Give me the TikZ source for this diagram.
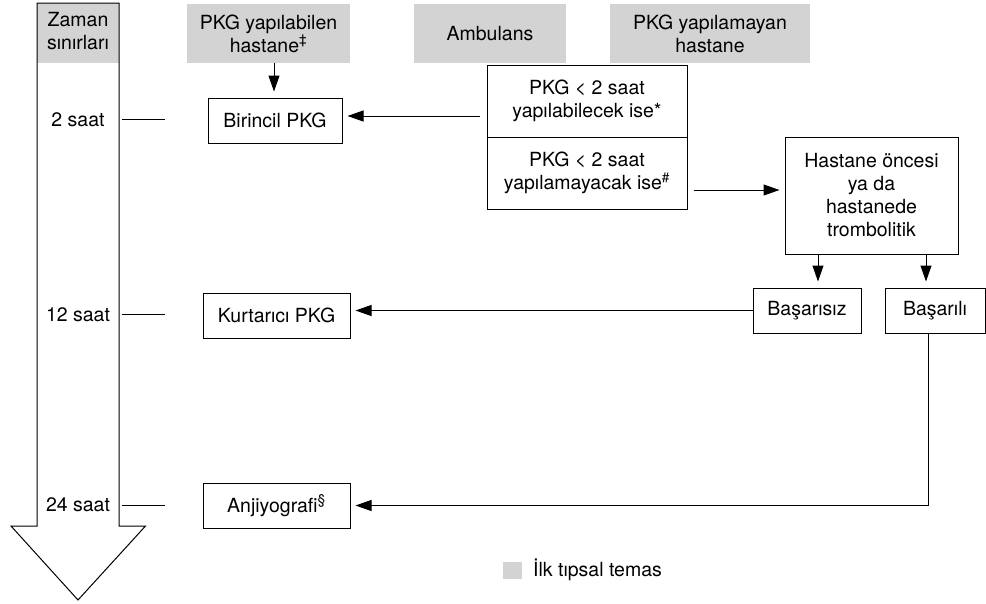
\documentclass[tikz,border=0pt]{standalone}
\usepackage{fontspec}
\setmainfont{TeX Gyre Heros}
\usetikzlibrary{arrows.meta}
\definecolor{hdr}{RGB}{211,211,211}
\tikzset{
  bx/.style={draw=black,line width=1pt,align=center,inner sep=0pt,minimum height=45pt},
  hd/.style={fill=hdr,align=center,inner sep=0pt,minimum height=59pt},
  lbl/.style={align=center,inner sep=0pt},
  arr/.style={line width=1pt,-{Triangle[length=16pt,width=11pt]},shorten >=5pt,shorten <=6pt},
  tick/.style={line width=1pt}
}
\begin{document}
\begin{tikzpicture}[x=1pt,y=-1pt,font=\fontsize{19.5}{23}\selectfont]
\useasboundingbox (0,0) rectangle (986,603);
% time arrow
\fill[hdr] (37,3) rectangle (119,63);
\draw[line width=1pt,line join=miter] (37,3) -- (119,3) -- (119,526) -- (145.5,526) -- (78,600) -- (11,526) -- (37,526) -- cycle;
\node[lbl] (zaman) at (78,31) {Zaman\\sınırları};
\node[lbl] (t2) at (78,120) {2 saat};
\node[lbl] (t12) at (78,315) {12 saat};
\node[lbl] (t24) at (78,505) {24 saat};
\coordinate (k2a) at (122,119); \coordinate (k2b) at (165,119);
\coordinate (k12a) at (122,314); \coordinate (k12b) at (165,314);
\coordinate (k24a) at (122,505); \coordinate (k24b) at (165,505);
\draw[tick] (k2a) -- (k2b);
\draw[tick] (k12a) -- (k12b);
\draw[tick] (k24a) -- (k24b);
% headers
\node[hd,minimum width=163pt] (h1) at (268.5,33.5) {PKG yapılabilen\\hastane\textsuperscript{‡}};
\node[hd,minimum width=152pt] (h2) at (490,33.5) {Ambulans};
\node[hd,minimum width=200pt] (h3) at (710,33.5) {PKG yapılamayan\\hastane};
% boxes
\node[bx,minimum width=134pt] (bir) at (275,120.5) {Birincil PKG};
\node[bx,minimum width=200pt,minimum height=72pt] (pa) at (587,101) {PKG < 2 saat\\yapılabilecek ise*};
\node[bx,minimum width=200pt,minimum height=72pt] (pb) at (587,173) {PKG < 2 saat\\yapılamayacak ise\textsuperscript{\#}};
\node[bx,minimum width=173pt,minimum height=117pt] (hast) at (871.5,195.5) {Hastane öncesi\\ya da\\hastanede\\trombolitik};
\node[bx,minimum width=108pt] (bsz) at (807,310.5) {Başarısız};
\node[bx,minimum width=100pt] (bsl) at (935,310.5) {Başarılı};
\node[bx,minimum width=147pt] (kurt) at (276.5,315.5) {Kurtarıcı PKG};
\node[bx,minimum width=147pt] (anj) at (276.5,505.5) {Anjiyografi\textsuperscript{§}};
% connectors
\draw[arr,shorten <=0pt,shorten >=6pt] (h1.south -| 274,0) -- (bir.north -| 274,0);
\draw[arr,shorten <=7pt] (pa.west |- 0,116) -- (bir.east |- 0,116);
\draw[arr] (pb.east |- 0,190) -- (hast.west |- 0,190);
\draw[arr,shorten <=0pt,shorten >=6pt] (hast.south -| 818,0) -- (bsz.north -| 818,0);
\draw[arr,shorten <=0pt,shorten >=6pt] (hast.south -| 926,0) -- (bsl.north -| 926,0);
\draw[arr,shorten <=0pt] (bsz.west) -- (kurt.east |- bsz.west);
\draw[arr,shorten <=0pt] (bsl.south -| 928,0) |- (anj.east);
% legend
\node[fill=hdr,minimum width=19pt,minimum height=17pt,inner sep=0pt] (leg) at (512.5,570.5) {};
\node[lbl,anchor=west] (legt) at (533,570) {İlk tıpsal temas};
\end{tikzpicture}
\end{document}
